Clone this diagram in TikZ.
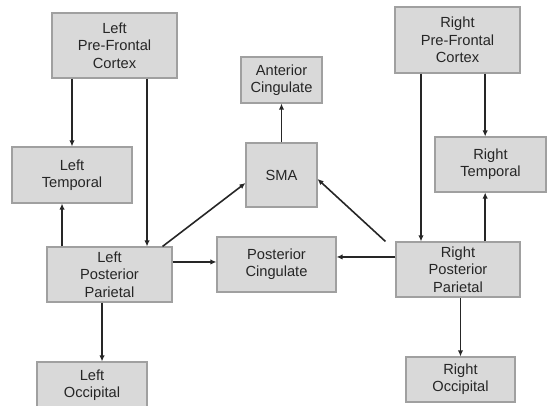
\documentclass[tikz,border=0pt]{standalone}
\usepackage{fontspec}
\setmainfont{Liberation Sans}
\usetikzlibrary{arrows.meta}
\definecolor{boxfill}{HTML}{D9D9D9}
\definecolor{boxline}{HTML}{A0A0A0}
\definecolor{txt}{HTML}{262626}
\begin{document}
\begin{tikzpicture}[x=0.75pt,y=-0.75pt,
  box/.style={draw=boxline,line width=0.8pt,fill=boxfill,rectangle,align=center,
    inner sep=0pt,text=txt,font=\fontsize{11}{13}\selectfont},
  arr/.style={draw=black!85,line width=1.2pt,-{Latex[length=4.5pt,width=4pt]}},
  ln/.style={draw=black!85,line width=1.2pt}]
\useasboundingbox (0,0) rectangle (547,406);
\node[box,minimum width=93.75pt,minimum height=48.75pt] (LPFC) at (114.5,45.5) {Left\\Pre-Frontal\\Cortex};
\node[box,minimum width=90pt,minimum height=42pt] (LT) at (72,175) {Left\\Temporal};
\node[box,minimum width=60.75pt,minimum height=34.5pt] (AC) at (281.5,80) {Anterior\\Cingulate};
\node[box,minimum width=53.25pt,minimum height=48pt] (SMA) at (281.5,175) {SMA};
\node[box,minimum width=93.75pt,minimum height=49.5pt] (RPFC) at (457.5,40) {Right\\Pre-Frontal\\Cortex};
\node[box,minimum width=83.25pt,minimum height=41.25pt] (RT) at (490.5,164.5) {Right\\Temporal};
\node[box,minimum width=93.75pt,minimum height=41.25pt] (LPP) at (109.5,274.5) {Left\\Posterior\\Parietal};
\node[box,minimum width=89.25pt,minimum height=41.25pt] (PC) at (276.5,264.5) {Posterior\\Cingulate};
\node[box,minimum width=93pt,minimum height=41.25pt] (RPP) at (458,269.5) {Right\\Posterior\\Parietal};
\node[box,minimum width=82.5pt,minimum height=34.5pt] (LO) at (92,385) {Left\\Occipital};
\node[box,minimum width=81.75pt,minimum height=33.75pt] (RO) at (460.5,379.5) {Right\\Occipital};
% left side
\draw[arr] (LT.north |- LPFC.south) -- (LT.north);
\draw[arr] ([xshift=24.4pt]LPFC.south) -- ([xshift=24.4pt]LPFC.south |- LPP.north);
\draw[arr] ([xshift=-35.6pt]LPP.north) -- ([xshift=-35.6pt]LPP.north |- LT.south);
\draw[arr] ([xshift=-5.6pt]LPP.south) -- ([xshift=-5.6pt]LPP.south |- LO.north);
\draw[arr] ([xshift=-7.5pt]LPP.north east) -- ([yshift=-6pt]SMA.west);
\draw[arr] ([yshift=9.4pt]LPP.east) -- ([yshift=9.4pt]LPP.east -| PC.west);
% centre
\draw[arr] (SMA.north) -- (AC.south);
% right side
\draw[arr] ([xshift=-4pt]RT.north |- RPFC.south) -- ([xshift=-4pt]RT.north);
\draw[arr] ([xshift=-27.75pt]RPP.north |- RPFC.south) -- ([xshift=-27.75pt]RPP.north);
\draw[arr] ([xshift=-4pt]RT.south |- RPP.north) -- ([xshift=-4pt]RT.south);
\draw[arr] ([xshift=-7.5pt]RPP.north west) -- ([yshift=-3pt]SMA.east);
\draw[arr] ([yshift=9.4pt]RPP.west) -- ([yshift=9.4pt]RPP.west -| PC.east);
\draw[arr] (RO.north |- RPP.south) -- (RO.north);
\end{tikzpicture}
\end{document}
